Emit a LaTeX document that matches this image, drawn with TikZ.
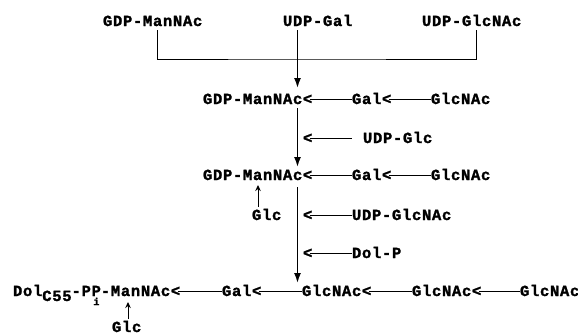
\documentclass[tikz,border=0pt]{standalone}
\usepackage{fontspec}
\newfontfamily\dmono[LetterSpace=4.5, BoldFeatures={FakeBold=1.5}]{Liberation Mono}
\usetikzlibrary{arrows.meta}
\begin{document}
\begin{tikzpicture}[x=1pt,y=-1pt,
  lbl/.style={font=\dmono\bfseries\fontsize{15.5pt}{15.5pt}\selectfont, inner sep=0pt, outer sep=0pt, anchor=base west, text height=10pt, text depth=0pt},
  bond/.style={line width=0.9pt},
  trunkarrow/.style={line width=1.5pt, -{Latex[length=10pt,width=7pt]}},
  glcarrow/.style={line width=1pt, -{Stealth[length=6pt,width=5.5pt]}}]
\useasboundingbox (0,0) rectangle (578,335);
\coordinate (trunk) at (297.5,0);
\coordinate (bar) at (297.5,59);
\coordinate (g1x) at (258,0);
\coordinate (g2x) at (128,0);
% top row
\node[lbl] (gdp0) at (103,26) {GDP-ManNAc};
\node[lbl] (ugal) at (283,26) {UDP-Gal};
\node[lbl] (uglcn) at (422,26) {UDP-GlcNAc};
% row 2
\node[lbl] (r2a) at (203,104) {GDP-ManNAc<};
\node[lbl] (r2b) at (352,104) {Gal<};
\node[lbl] (r2c) at (431,104) {GlcNAc};
% UDP-Glc
\node[lbl] (lt1) at (303,143) {<};
\node[lbl] (udpglc) at (363,143) {UDP-Glc};
% row 3
\node[lbl] (r3a) at (203,180) {GDP-ManNAc<};
\node[lbl] (r3b) at (352,180) {Gal<};
\node[lbl] (r3c) at (431,180) {GlcNAc};
% row 4
\node[lbl] (glc1) at (252,220) {Glc};
\node[lbl] (lt2) at (303,220) {<};
\node[lbl] (udpglcn) at (352,220) {UDP-GlcNAc};
% Dol-P
\node[lbl] (lt3) at (303,258) {<};
\node[lbl] (dolp) at (352,258) {Dol-P};
% bottom row
\node[lbl] (b1) at (13,296) {Dol\raisebox{-5pt}{C55}-PP\llap{\raisebox{-9pt}{\fontsize{10pt}{10pt}\selectfont i}\kern1.5pt}-ManNAc<};
\node[lbl] (b2) at (222,296) {Gal<};
\node[lbl] (b3) at (302,296) {GlcNAc<};
\node[lbl] (b4) at (412,296) {GlcNAc<};
\node[lbl] (b5) at (520,296) {GlcNAc};
\node[lbl] (glc2) at (112,332) {Glc};
% bracket
\draw[bond] ([xshift=5pt,yshift=-4pt]gdp0.south) |- (bar) -| ([xshift=5pt,yshift=-4pt]uglcn.south);
% trunk arrows
\draw[trunkarrow, shorten <=4pt, shorten >=6pt] (ugal.south -| trunk) -- (r2a.north -| trunk);
\draw[trunkarrow, shorten <=4pt, shorten >=3pt] (r2a.south -| trunk) -- (r3a.north -| trunk);
\draw[trunkarrow, shorten <=7pt, shorten >=3pt] (r3a.south -| trunk) -- (b3.north -| trunk);
% chain bonds
\draw[bond] ([xshift=-2pt]r2a.east) -- (r2b.west);
\draw[bond] ([xshift=-2pt]r2b.east) -- (r2c.west);
\draw[bond, shorten >=11pt] ([xshift=-2pt]lt1.east) -- (udpglc.west);
\draw[bond] ([xshift=-2pt]r3a.east) -- (r3b.west);
\draw[bond] ([xshift=-2pt]r3b.east) -- (r3c.west);
\draw[bond] ([xshift=-2pt]lt2.east) -- (udpglcn.west);
\draw[bond] ([xshift=-2pt]lt3.east) -- (dolp.west);
\draw[bond] ([xshift=-2pt]b1.east) -- (b2.west);
\draw[bond] ([xshift=-2pt]b2.east) -- (b3.west);
\draw[bond] ([xshift=-2pt]b3.east) -- (b4.west);
\draw[bond] ([xshift=-2pt]b4.east) -- (b5.west);
% Glc arrows
\draw[glcarrow, shorten <=3pt, shorten >=5pt] (glc1.north -| g1x) -- (r3a.south -| g1x);
\draw[glcarrow, shorten <=3pt, shorten >=6pt] (glc2.north -| g2x) -- (b1.south -| g2x);
\end{tikzpicture}
\end{document}
